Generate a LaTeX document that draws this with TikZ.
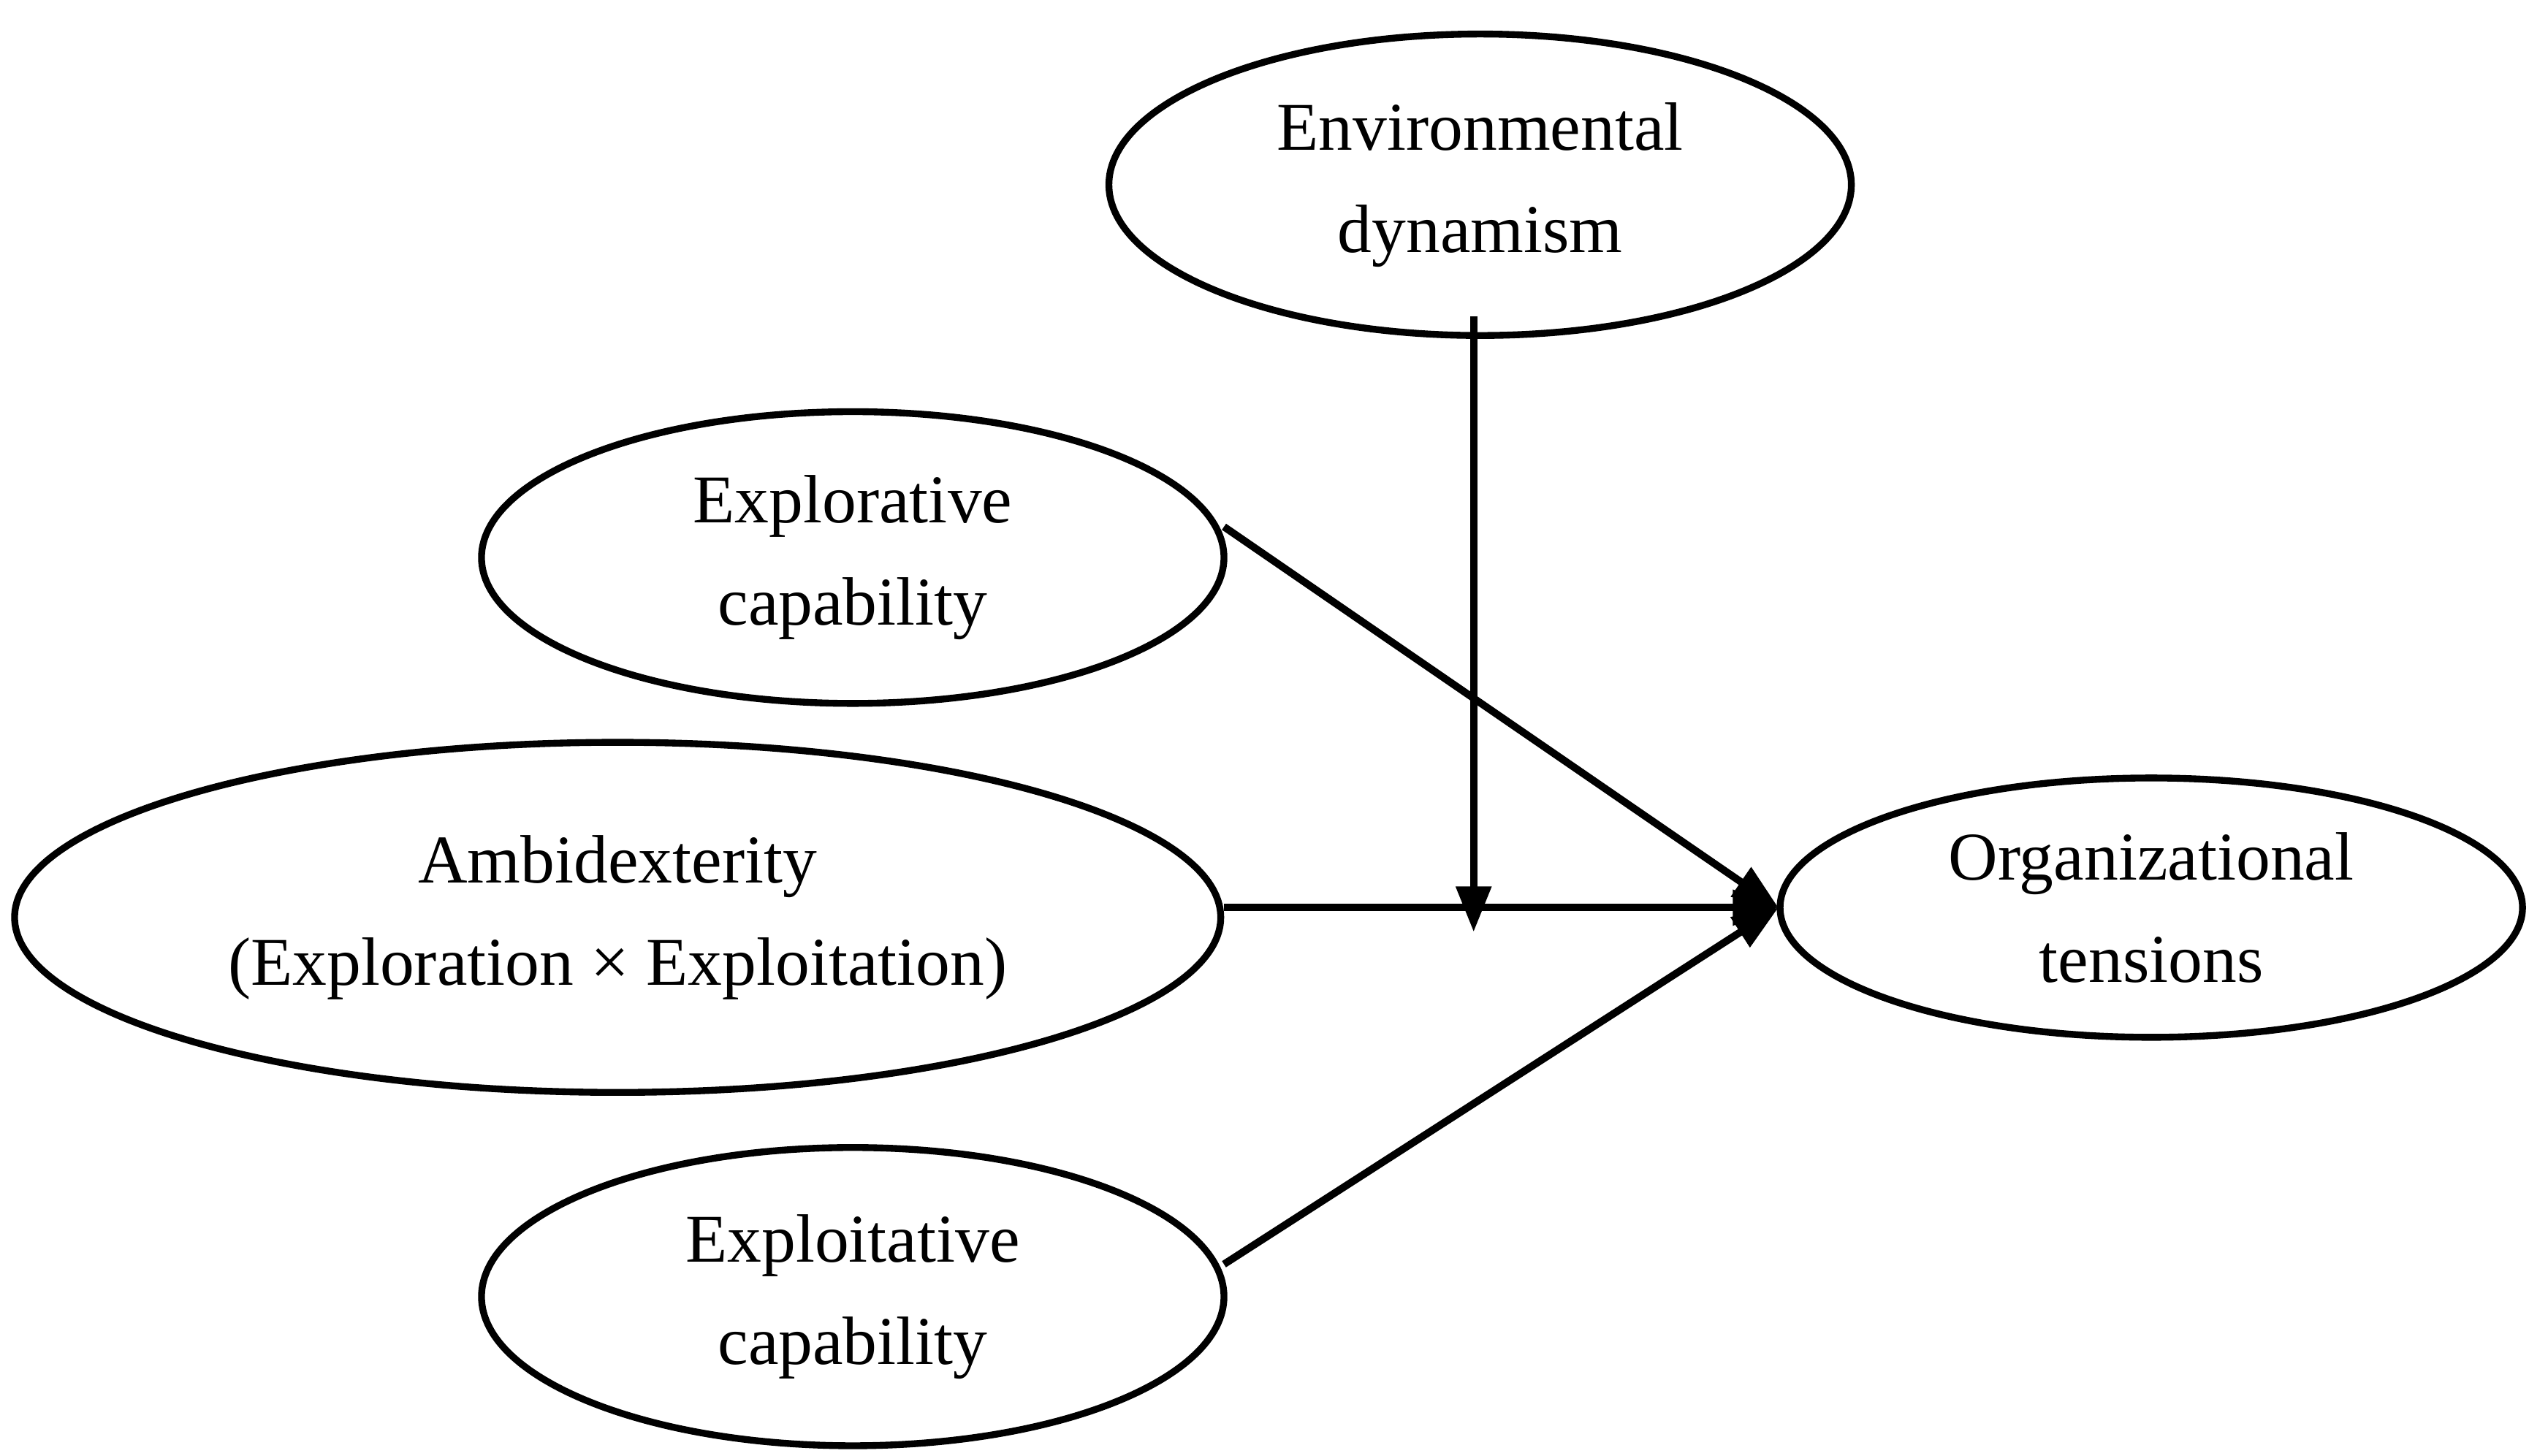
\documentclass[tikz,border=0pt]{standalone}
\usepackage{fontspec}
\setmainfont{Liberation Serif}
\usetikzlibrary{shapes.geometric,arrows.meta}
\begin{document}
\begin{tikzpicture}[x=0.1mm,y=-0.1mm,
  ell/.style={draw,line width=1.2pt,ellipse,inner sep=0pt,align=center,font=\fontsize{12}{18}\selectfont},
  arr/.style={line width=1.3pt,-{Triangle[length=8pt,width=6pt]}}]
\useasboundingbox (0,0) rectangle (1560,898);
\node[ell,minimum width=45.8mm,minimum height=18.6mm] (env) at (913,114) {Environmental\\dynamism};
\node[ell,minimum width=45.8mm,minimum height=18mm] (expl) at (526,344) {Explorative\\capability};
\node[ell,minimum width=74.4mm,minimum height=21.6mm] (amb) at (381,566) {Ambidexterity\\(Exploration × Exploitation)};
\node[ell,minimum width=45.8mm,minimum height=18.4mm] (expt) at (526,800) {Exploitative\\capability};
\node[ell,minimum width=45.8mm,minimum height=16mm] (org) at (1327,560) {Organizational\\tensions};
\node[ell,draw=none,minimum size=0pt] at (0,0) {};
\coordinate (ea) at (755,325);
\coordinate (eb) at (755,780);
\coordinate (am) at (755,560);
\coordinate (tgt) at (1097,560);
\coordinate (top) at (909,195);
\coordinate (mid) at (909,575);
\draw[arr] (ea) -- (tgt);
\draw[arr] (am) -- (tgt);
\draw[arr] (eb) -- (tgt);
\draw[arr] (top) -- (mid);
\end{tikzpicture}
\end{document}
